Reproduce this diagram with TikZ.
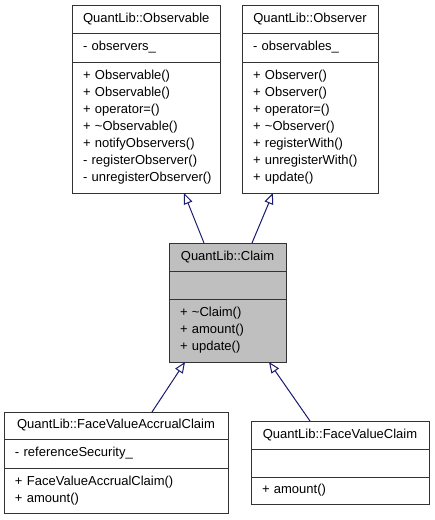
\documentclass[tikz,border=0pt]{standalone}
\usepackage{fontspec}
\setmainfont{Liberation Sans}
\usetikzlibrary{arrows.meta,positioning}
\definecolor{edgeblue}{HTML}{191970}
\definecolor{claimgray}{HTML}{BFBFBF}
\newcommand\umlfont{\fontsize{13}{17}\selectfont\hyphenpenalty=10000\exhyphenpenalty=10000\relax}
\tikzset{
  umlpart/.style={draw=black!80, line width=1pt, outer sep=0pt, inner xsep=11pt, inner ysep=0pt, anchor=north, font=\umlfont},
  umlhead/.style={umlpart, align=center, minimum height=28pt},
  umlbody/.style={umlpart, align=left},
  inherit/.style={draw=edgeblue, line width=1pt, -{Triangle[open, length=11pt, width=9pt]}}
}

\begin{document}
\begin{tikzpicture}[x=1pt, y=-1pt]
  \useasboundingbox (0,0) rectangle (435,520);

  % base classes
  \node[umlhead, text width=126pt] (obshead) at (146,5) {QuantLib::Observable};
  \node[umlbody, text width=126pt, minimum height=29pt, below=0pt of obshead] (obsattr) {- observers\_};
  \node[umlbody, text width=126pt, minimum height=131pt, below=0pt of obsattr] (obsops) {+ Observable()\\+ Observable()\\+ operator=()\\+ \textasciitilde Observable()\\+ notifyObservers()\\- registerObserver()\\-~unregisterObserver()};

  \node[umlhead, text width=114pt] (obrhead) at (310,5) {QuantLib::Observer};
  \node[umlbody, text width=114pt, minimum height=29pt, below=0pt of obrhead] (obrattr) {- observables\_};
  \node[umlbody, text width=114pt, minimum height=131pt, below=0pt of obrattr] (obrops) {+ Observer()\\+ Observer()\\+ operator=()\\+ \textasciitilde Observer()\\+ registerWith()\\+ unregisterWith()\\+ update()};

  % the class itself
  \node[umlhead, fill=claimgray, text width=95pt] (claimhead) at (227.5,243) {QuantLib::Claim};
  \node[umlbody, fill=claimgray, text width=95pt, minimum height=28pt, below=0pt of claimhead] (claimattr) {};
  \node[umlbody, fill=claimgray, text width=95pt, minimum height=63pt, below=0pt of claimattr] (claimops) {+ \textasciitilde Claim()\\+ amount()\\+ update()};

  % derived classes
  \node[umlhead, text width=202pt, minimum height=27pt] (accrhead) at (116,412) {QuantLib::FaceValueAccrualClaim};
  \node[umlbody, text width=202pt, minimum height=29pt, below=0pt of accrhead] (accrattr) {- referenceSecurity\_};
  \node[umlbody, text width=202pt, minimum height=45pt, below=0pt of accrattr] (accrops) {+ FaceValueAccrualClaim()\\+ amount()};

  \node[umlhead, text width=156pt] (facehead) at (340,421) {QuantLib::FaceValueClaim};
  \node[umlbody, text width=156pt, minimum height=28pt, below=0pt of facehead] (faceattr) {};
  \node[umlbody, text width=156pt, minimum height=27pt, below=0pt of faceattr] (faceops) {+ amount()};

  % inheritance
  \draw[inherit] ([xshift=-23.5pt]claimhead.north) -- ([xshift=38pt]obsops.south);
  \draw[inherit] ([xshift=24.5pt]claimhead.north) -- ([xshift=-37pt]obrops.south);
  \draw[inherit] ([xshift=36pt]accrhead.north) -- ([xshift=-42.5pt]claimops.south);
  \draw[inherit] ([xshift=-30pt]facehead.north) -- ([xshift=41.5pt]claimops.south);
\end{tikzpicture}
\end{document}
